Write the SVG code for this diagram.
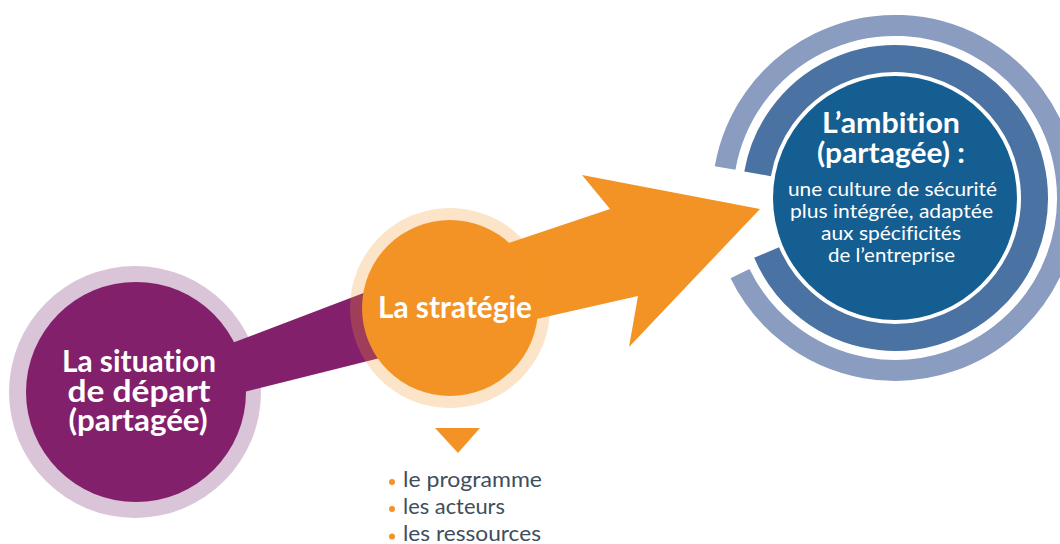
<svg xmlns="http://www.w3.org/2000/svg" width="1060" height="544" viewBox="0 0 1060 544">
<style>
text{font-variant-ligatures:none;font-feature-settings:"liga" 0,"clig" 0}
.t{font-family:Lato,"Open Sans","Liberation Sans",sans-serif;fill:#fff;text-anchor:middle}
.b{font-weight:700}
.li{font-family:Lato,"Open Sans","Liberation Sans",sans-serif;fill:#3e4e5c;font-size:21px}
.dot{fill:#f39325}
.ring{fill:none}
</style>
<rect width="1060" height="544" fill="#fff"/>
<g id="node-situation">
<circle cx="135" cy="392" r="126" fill="#d9c4d8"/>
<circle cx="136" cy="392" r="110" fill="#83206c"/>
<text class="t b" font-size="31" x="139" y="372" textLength="154" lengthAdjust="spacingAndGlyphs">La situation</text>
<text class="t b" font-size="31" x="139" y="402" textLength="143" lengthAdjust="spacingAndGlyphs">de départ</text>
<text class="t b" font-size="31" x="138" y="431" textLength="139" lengthAdjust="spacingAndGlyphs">(partagée)</text>
</g>
<g id="connectors">
<polygon id="band" points="226,345.3 420,271.6 420,348 226,396.5" fill="#83206c"/>
<polygon id="arrow" points="470,256 610,209 582,175 760,209 629,347 638,296 470,334" fill="#f39325"/>
</g>
<g id="node-strategie">
<circle cx="450" cy="308" r="100" fill="#f39325" fill-opacity="0.25"/>
<circle cx="450" cy="308" r="88" fill="#f39325"/>
<text class="t b" x="455" y="318" font-size="30" textLength="154" lengthAdjust="spacingAndGlyphs">La stratégie</text>
</g>
<g id="node-ambition">
<path class="ring" d="M 725.1 168.05 A 172.5 172.5 0 1 1 740.0 273.6" stroke="#8a9cc0" stroke-width="21"/>
<path class="ring" d="M 757.6 173.8 A 139.5 139.5 0 1 1 766.6 252.5" stroke="#4a72a2" stroke-width="27"/>
<circle cx="895" cy="198" r="122" fill="#155e92"/>
<text class="t b" x="891" y="133" font-size="29" textLength="138" lengthAdjust="spacingAndGlyphs">L’ambition</text>
<text class="t b" x="891" y="163" font-size="29" textLength="148" lengthAdjust="spacingAndGlyphs">(partagée) :</text>
<text class="t" font-size="20" x="892.5" y="196" textLength="209" lengthAdjust="spacingAndGlyphs">une culture de sécurité</text>
<text class="t" font-size="20" x="891.5" y="218" textLength="203" lengthAdjust="spacingAndGlyphs">plus intégrée, adaptée</text>
<text class="t" font-size="20" x="891" y="240" textLength="140" lengthAdjust="spacingAndGlyphs">aux spécificités</text>
<text class="t" font-size="20" x="891.5" y="262" textLength="127" lengthAdjust="spacingAndGlyphs">de l’entreprise</text>
</g>
<g id="node-liste">
<polygon points="435,428 480,428 458,453" fill="#f39325"/>
<circle class="dot" cx="392" cy="482" r="3"/>
<circle class="dot" cx="392" cy="509" r="3"/>
<circle class="dot" cx="392" cy="536.5" r="3"/>
<text class="li" x="403" y="487" textLength="139" lengthAdjust="spacingAndGlyphs">le programme</text>
<text class="li" x="403" y="514" textLength="102" lengthAdjust="spacingAndGlyphs">les acteurs</text>
<text class="li" x="403" y="541" textLength="138" lengthAdjust="spacingAndGlyphs">les ressources</text>
</g>
</svg>
